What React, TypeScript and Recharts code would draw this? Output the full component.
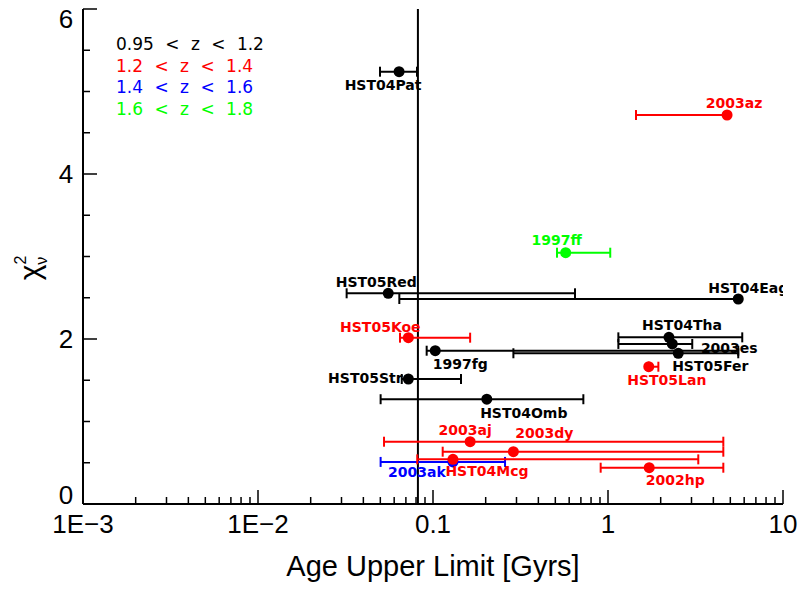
import React from "react";
import { ErrorBar, ReferenceLine, Scatter, ScatterChart, XAxis, YAxis } from "recharts";

// supernova hosts: age upper limit (Gyr) with range, reduced chi^2
const NAMES = [
  "HST04Pat", "2003az", "1997ff", "HST05Red", "HST04Eag", "HST05Koe",
  "HST04Tha", "2003es", "1997fg", "HST05Fer", "HST05Lan", "HST05Str",
  "HST04Omb", "2003aj", "2003dy", "2003ak", "HST04Mcg", "2002hp",
];
const AGE = [0.064, 4.79, 0.573, 0.0555, 5.55, 0.0723, 2.23, 2.33, 0.103, 2.52, 1.71, 0.0723, 0.203, 0.163, 0.288, 0.13, 0.13, 1.72];
const AGE_LO = [0.0498, 1.445, 0.511, 0.0321, 0.0642, 0.0648, 1.146, 1.146, 0.092, 0.288, 1.71, 0.0663, 0.0502, 0.0525, 0.1136, 0.0502, 0.0813, 0.908];
const AGE_HI = [0.081, 4.79, 1.03, 0.648, 5.55, 0.163, 5.85, 3.03, 5.55, 5.55, 1.94, 0.1445, 0.723, 4.56, 4.56, 0.258, 3.28, 4.56];
const CHI2 = [5.24, 4.715, 3.046, 2.554, 2.485, 2.016, 2.02, 1.94, 1.858, 1.827, 1.664, 1.515, 1.27, 0.755, 0.634, 0.51, 0.541, 0.44];
// 0: 0.95<z<1.2, 1: 1.2<z<1.4, 2: 1.4<z<1.6, 3: 1.6<z<1.8
const GROUP = [0, 1, 3, 0, 0, 1, 0, 0, 0, 0, 1, 0, 0, 1, 1, 2, 1, 1];

const LEGEND = ["0.95 < z < 1.2", "1.2 < z < 1.4", "1.4 < z < 1.6", "1.6 < z < 1.8"];
const AGE_LIMIT = 0.082;

const X_MAJOR = [0.001, 0.01, 0.1, 1, 10];
const X_MAJOR_LABELS = ["1E\u22123", "1E\u22122", "0.1", "1", "10"];
const X_MINOR = [
  0.002, 0.003, 0.004, 0.005, 0.006, 0.007, 0.008, 0.009,
  0.02, 0.03, 0.04, 0.05, 0.06, 0.07, 0.08, 0.09,
  0.2, 0.3, 0.4, 0.5, 0.6, 0.7, 0.8, 0.9,
  2, 3, 4, 5, 6, 7, 8, 9,
];
const Y_MAJOR = [0, 2, 4, 6];
const Y_MINOR = [0.5, 1, 1.5, 2.5, 3, 3.5, 4.5, 5, 5.5];

const COLORS = ["#000000", "#ff0000", "#0000ff", "#00ff00"];
const DRAW_ORDER = [0, 3, 2, 1];

// label placement relative to the point: [dx of text centre, dy of baseline]
const LABEL_POS: Record<string, [number, number]> = {
  HST04Pat: [-16, 18], "2003az": [7, -7], "1997ff": [-9, -8], HST05Red: [-12, -6],
  HST04Eag: [10, -6], HST05Koe: [-28, -6], HST04Tha: [13, -7], "2003es": [57, 9],
  "1997fg": [25, 18], HST05Fer: [32, 18], HST05Lan: [18, 18], HST05Str: [-43, 4],
  HST04Omb: [37, 19], "2003aj": [-5, -7], "2003dy": [31, -14], HST04Mcg: [34, 17],
  "2003ak": [-36, 15], "2002hp": [26, 17],
};

const rows = NAMES.map((name, i) => ({
  name,
  group: GROUP[i],
  age: AGE[i],
  chi2: CHI2[i],
  xErr: [AGE[i] - AGE_LO[i], AGE_HI[i] - AGE[i]],
}));

const AXIS_FONT = '"Liberation Sans", Arial, sans-serif';
const TEXT_FONT = '"DejaVu Sans", Verdana, sans-serif';

function BottomTick({ x, y, payload }: any) {
  const idx = X_MAJOR.indexOf(payload.value);
  const major = idx >= 0;
  return (
    <g>
      <line x1={x} x2={x} y1={y} y2={y - (major ? 14 : 7)} stroke="#000" strokeWidth={1.5} />
      {major && (
        <text x={x} y={y + 29} textAnchor="middle" fontFamily={AXIS_FONT} fontSize={26} fill="#000">
          {X_MAJOR_LABELS[idx]}
        </text>
      )}
    </g>
  );
}

function TopTick({ x, y, payload }: any) {
  const major = X_MAJOR.includes(payload.value);
  return <line x1={x} x2={x} y1={y} y2={y + (major ? 14 : 7)} stroke="#000" strokeWidth={1.5} />;
}

function LeftTick({ x, y, payload }: any) {
  const v = payload.value;
  const major = Y_MAJOR.includes(v);
  const shift = v === 0 ? -9 : v === 6 ? 10 : 0;
  return (
    <g>
      <line x1={x} x2={x + (major ? 14 : 7)} y1={y} y2={y} stroke="#000" strokeWidth={1.5} />
      {major && (
        <text x={x - 17} y={y + shift + 9} textAnchor="middle" fontFamily={AXIS_FONT} fontSize={26} fill="#000">
          {v}
        </text>
      )}
    </g>
  );
}

function RightTick({ x, y, payload }: any) {
  const major = Y_MAJOR.includes(payload.value);
  return <line x1={x} x2={x - (major ? 14 : 7)} y1={y} y2={y} stroke="#000" strokeWidth={1.5} />;
}

function makeShape(color: string) {
  return (props: any) => {
    const { cx, cy, payload } = props;
    const [dx, dy] = LABEL_POS[payload.name] ?? [0, -8];
    return (
      <g>
        <circle cx={cx} cy={cy} r={5.5} fill={color} />
        <text
          x={cx + dx}
          y={cy + dy}
          textAnchor="middle"
          fontFamily={TEXT_FONT}
          fontWeight="bold"
          fontSize={14}
          fill={color}
        >
          {payload.name}
        </text>
      </g>
    );
  };
}

function YTitle() {
  const cx = 31;
  const cy = 268;
  return (
    <text transform={`rotate(-90, ${cx}, ${cy})`} x={cx} y={cy + 9} textAnchor="middle" fontFamily={AXIS_FONT} fill="#000">
      <tspan fontSize={30}>χ</tspan>
      <tspan fontSize={16} dy={-14}>2</tspan>
      <tspan fontSize={16} dx={-9} dy={21}>ν</tspan>
    </text>
  );
}

export default function App() {
  const allX = [...X_MAJOR, ...X_MINOR];
  const allY = [...Y_MAJOR, ...Y_MINOR];
  return (
    <div style={{ position: "absolute", left: 0, top: 0, width: 803, height: 589, background: "#fff" }}>
      <ScatterChart width={803} height={589} margin={{ top: 9, right: 20, bottom: 0, left: 0 }}>
        <XAxis
          xAxisId="b"
          dataKey="age"
          type="number"
          scale="log"
          domain={[0.001, 10]}
          allowDataOverflow
          ticks={allX}
          interval={0}
          tick={<BottomTick />}
          tickLine={false}
          tickSize={0}
          tickMargin={0}
          height={85}
          axisLine={{ stroke: "#000", strokeWidth: 2 }}
          label={{
            value: "Age Upper Limit [Gyrs]",
            position: "insideBottom",
            offset: 13,
            style: { fontFamily: AXIS_FONT, fontSize: 29, fill: "#000" },
          }}
        />
        <XAxis
          xAxisId="t"
          orientation="top"
          type="number"
          scale="log"
          domain={[0.001, 10]}
          allowDataOverflow
          ticks={allX}
          interval={0}
          tick={<TopTick />}
          tickLine={false}
          tickSize={0}
          tickMargin={0}
          height={0}
          axisLine={{ stroke: "#000", strokeWidth: 2 }}
        />
        <YAxis
          yAxisId="l"
          dataKey="chi2"
          type="number"
          domain={[0, 6]}
          allowDataOverflow
          ticks={allY}
          interval={0}
          tick={<LeftTick />}
          tickLine={false}
          tickSize={0}
          tickMargin={0}
          width={83}
          axisLine={{ stroke: "#000", strokeWidth: 2 }}
          label={<YTitle />}
        />
        <YAxis
          yAxisId="r"
          orientation="right"
          type="number"
          domain={[0, 6]}
          allowDataOverflow
          ticks={allY}
          interval={0}
          tick={<RightTick />}
          tickLine={false}
          tickSize={0}
          tickMargin={0}
          width={0}
          axisLine={{ stroke: "#000", strokeWidth: 2 }}
        />
        <ReferenceLine xAxisId="b" yAxisId="l" x={AGE_LIMIT} stroke="#000" strokeWidth={2} />
        {DRAW_ORDER.map((g) => (
          <Scatter
            key={g}
            xAxisId="b"
            yAxisId="l"
            data={rows.filter((r) => r.group === g)}
            dataKey="chi2"
            fill={COLORS[g]}
            shape={makeShape(COLORS[g])}
            isAnimationActive={false}
          >
            <ErrorBar dataKey="xErr" direction="x" width={5} stroke={COLORS[g]} strokeWidth={2} />
          </Scatter>
        ))}
      </ScatterChart>
      <div
        style={{
          position: "absolute",
          left: 116,
          top: 34,
          fontFamily: TEXT_FONT,
          fontSize: 17,
          lineHeight: "21.5px",
          wordSpacing: 6,
          whiteSpace: "pre",
        }}
      >
        {LEGEND.map((t, i) => (
          <div key={t} style={{ color: COLORS[i] }}>
            {t}
          </div>
        ))}
      </div>
    </div>
  );
}
